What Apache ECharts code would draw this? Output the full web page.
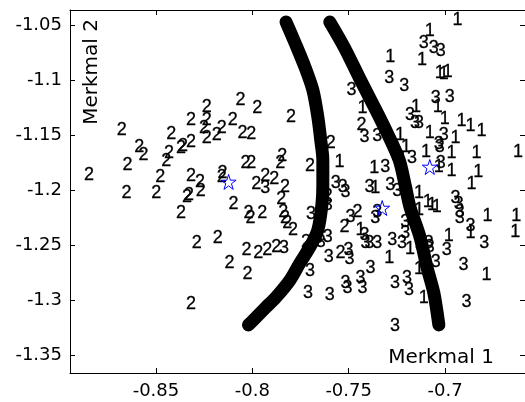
<!DOCTYPE html>
<html>
<head>
<meta charset="utf-8">
<script src="https://cdn.jsdelivr.net/npm/echarts@6/dist/echarts.min.js"></script>
<style>
html, body { margin:0; padding:0; background:#fff; }
#chart { width:525px; height:402px; }
</style>
</head>
<body>
<div id="chart"></div>
<script>
// tick labels
const xTicks = [-0.85, -0.8, -0.75, -0.7];
const yTicks = [-1.35, -1.3, -1.25, -1.2, -1.15, -1.1, -1.05];

// class 1 samples
const cls1X = [-0.6935,-0.7079,-0.7284,-0.7120,-0.7027,-0.7007,-0.6986,-0.7038,-0.7151,-0.7428,
    -0.7002,-0.6914,-0.6868,-0.6811,-0.7233,-0.7079,-0.6945,-0.6621,-0.7202,-0.7099,
    -0.6966,-0.6837,-0.7547,-0.7367,-0.7032,-0.6966,-0.6827,-0.6863,-0.7362,-0.7135,
    -0.7089,-0.7068,-0.7043,-0.7135,-0.6780,-0.6631,-0.6636,-0.6868,-0.6981,-0.7439,
    -0.7182,-0.7290,-0.7135,-0.6785,-0.7110];
const cls1Y = [-1.0455,-1.0555,-1.0791,-1.0818,-1.0936,-1.0945,-1.0927,-1.1245,-1.1245,-1.1255,
    -1.1355,-1.1373,-1.1418,-1.1464,-1.1500,-1.1482,-1.1527,-1.1655,-1.1609,-1.1655,
    -1.1664,-1.1664,-1.1745,-1.1800,-1.1791,-1.1827,-1.1836,-1.1945,-1.1982,-1.2027,
    -1.2109,-1.2136,-1.2155,-1.2182,-1.2236,-1.2236,-1.2382,-1.2391,-1.2418,-1.2364,
    -1.2536,-1.2618,-1.2718,-1.2773,-1.2982];

// class 2 samples
const cls2X = [-0.8061,-0.7974,-0.7799,-0.8236,-0.8236,-0.8318,-0.8102,-0.8678,-0.8421,-0.8251,
    -0.8159,-0.8051,-0.8005,-0.8236,-0.8185,-0.8318,-0.8359,-0.8370,-0.8586,-0.8565,
    -0.8648,-0.8432,-0.8447,-0.8848,-0.8478,-0.8318,-0.8272,-0.8154,-0.8159,-0.8035,
    -0.8005,-0.7845,-0.7855,-0.7701,-0.7593,-0.7434,-0.7979,-0.7933,-0.7886,-0.7830,
    -0.7850,-0.8653,-0.8498,-0.8339,-0.8329,-0.8267,-0.8370,-0.8097,-0.8020,-0.8010,
    -0.7948,-0.7840,-0.7830,-0.7819,-0.7789,-0.8288,-0.8179,-0.8118,-0.8030,-0.7969,
    -0.7922,-0.7876,-0.8025,-0.8318,-0.7722,-0.7542,-0.7521,-0.7454,-0.7609];
const cls2Y = [-1.1182,-1.1255,-1.1336,-1.1245,-1.1364,-1.1364,-1.1364,-1.1455,-1.1491,-1.1436,
    -1.1436,-1.1482,-1.1491,-1.1527,-1.1500,-1.1564,-1.1600,-1.1618,-1.1609,-1.1682,
    -1.1773,-1.1664,-1.1736,-1.1864,-1.1882,-1.1873,-1.1927,-1.1845,-1.1882,-1.1755,
    -1.1755,-1.1691,-1.1755,-1.1782,-1.1573,-1.1409,-1.1945,-1.1873,-1.1900,-1.1973,
    -1.2082,-1.2027,-1.2027,-1.2064,-1.2045,-1.2009,-1.2209,-1.2127,-1.2209,-1.2255,
    -1.2209,-1.2200,-1.2255,-1.2300,-1.2364,-1.2482,-1.2436,-1.2664,-1.2545,-1.2573,
    -1.2545,-1.2518,-1.2764,-1.3036,-1.2473,-1.2573,-1.2336,-1.2200,-1.2055];

// class 3 samples
const cls3X = [-0.7110,-0.7058,-0.7022,-0.7290,-0.7212,-0.7485,-0.7048,-0.6976,-0.7182,-0.7156,
    -0.7135,-0.7418,-0.7351,-0.7007,-0.7032,-0.7027,-0.7233,-0.7171,-0.7310,-0.7022,
    -0.7567,-0.7531,-0.7516,-0.7392,-0.7284,-0.7248,-0.7933,-0.7835,-0.7696,-0.7660,
    -0.7609,-0.7701,-0.7711,-0.7598,-0.7516,-0.7506,-0.7439,-0.7428,-0.7603,-0.7501,
    -0.7495,-0.7490,-0.6945,-0.6929,-0.6924,-0.6924,-0.6868,-0.6796,-0.6991,-0.6904,
    -0.6888,-0.7351,-0.7362,-0.7207,-0.7207,-0.7223,-0.7274,-0.7392,-0.7351,-0.7130,
    -0.7084,-0.7079,-0.7048,-0.7387,-0.7259,-0.7197,-0.7187,-0.7259,-0.7418,-0.7413,
    -0.7609,-0.7645];
const cls3Y = [-1.0664,-1.0709,-1.0736,-1.0982,-1.1055,-1.1091,-1.1164,-1.1155,-1.1318,-1.1391,
    -1.1391,-1.1518,-1.1509,-1.1500,-1.1582,-1.1609,-1.1709,-1.1709,-1.1791,-1.1755,
    -1.1936,-1.1973,-1.2018,-1.1973,-1.1955,-1.2009,-1.1982,-1.2527,-1.2218,-1.2436,
    -1.2427,-1.2736,-1.2936,-1.2955,-1.2845,-1.2891,-1.2800,-1.2891,-1.2609,-1.2545,
    -1.2627,-1.2245,-1.2073,-1.2127,-1.2200,-1.2255,-1.2327,-1.2482,-1.2545,-1.2682,
    -1.3018,-1.2200,-1.2255,-1.2291,-1.2391,-1.2482,-1.2455,-1.2482,-1.2482,-1.2500,
    -1.2482,-1.2518,-1.2655,-1.2709,-1.2845,-1.2800,-1.2909,-1.3236,-1.2409,-1.2482,
    -1.2136,-1.2473];

// class centres (stars): 2, 3, 1
const centerX = [-0.8123, -0.7326, -0.7079];
const centerY = [-1.1927, -1.2164, -1.1791];

// decision boundaries
const bound1X = [-0.7825,-0.7778,-0.7727,-0.7686,-0.7660,-0.7645,-0.7634,-0.7634,-0.7639,-0.7660,-0.7701,-0.7753,-0.7804,-0.7876,-0.7933,-0.7994,-0.8020];
const bound1Y = [-1.0473,-1.0664,-1.0882,-1.1091,-1.1336,-1.1545,-1.1727,-1.1955,-1.2136,-1.2364,-1.2518,-1.2664,-1.2818,-1.2973,-1.3073,-1.3182,-1.3227];
const bound2X = [-0.7598,-0.7521,-0.7444,-0.7367,-0.7300,-0.7238,-0.7207,-0.7182,-0.7130,-0.7094,-0.7058,-0.7032];
const bound2Y = [-1.0473,-1.0709,-1.0982,-1.1245,-1.1482,-1.1727,-1.1955,-1.2155,-1.2427,-1.2700,-1.2936,-1.3227];

const font = '"Liberation Sans", Arial, sans-serif';
const wideFont = '"DejaVu Sans", "Liberation Sans", sans-serif';
const starPath = 'path://M50 0 L61.17 34.63 L97.55 34.55 L68.07 55.87 L79.39 90.45 L50 69 L20.61 90.45 L31.93 55.87 L2.45 34.55 L38.83 34.63 Z';

const zip = (xs, ys) => xs.map((x, i) => [x, ys[i]]);

function textSeries(name, xs, ys){
    return {
        type:'scatter',
        name:name,
        symbol:'circle',
        symbolSize:1,
        itemStyle:{ color:'rgba(0,0,0,0)', opacity:1 },
        label:{
            show:true,
            position:'inside',
            formatter:name,
            color:'#000',
            textBorderColor:'#000',
            textBorderWidth:0.3,
            fontFamily:font,
            fontSize:18
        },
        silent:true,
        z:2,
        data:zip(xs, ys)
    };
}

function boundSeries(xs, ys){
    return {
        type:'line',
        data:zip(xs, ys),
        smooth:0.3,
        symbol:'none',
        lineStyle:{ color:'#000', width:13, cap:'round', join:'round', opacity:1 },
        silent:true,
        z:3
    };
}

const xMin = -0.8946, xMax = -0.6585;
const yMin = -1.3664, yMax = -1.0364;

const axisCommon = {
    type:'value',
    scale:true,
    splitLine:{ show:false },
    axisLine:{ show:true, onZero:false, lineStyle:{ color:'#000', width:1 } },
    axisTick:{ show:true, inside:true, length:5, lineStyle:{ color:'#000' } }
};

let myChart = echarts.init(document.getElementById('chart'), null, { renderer:'canvas' });
let option = {
    animation:false,
    grid:{ left:70, right:-4, top:10, bottom:29 },
    xAxis:[
        Object.assign({}, axisCommon, {
            min:xMin, max:xMax, position:'bottom',
            axisTick:Object.assign({}, axisCommon.axisTick, { customValues:xTicks }),
            axisLabel:{ customValues:xTicks, color:'#000', fontFamily:wideFont, fontSize:18, margin:9 }
        }),
        Object.assign({}, axisCommon, {
            min:xMin, max:xMax, position:'top',
            axisTick:Object.assign({}, axisCommon.axisTick, { customValues:xTicks }),
            axisLabel:{ show:false }
        })
    ],
    yAxis:[
        Object.assign({}, axisCommon, {
            min:yMin, max:yMax, position:'left',
            axisTick:Object.assign({}, axisCommon.axisTick, { customValues:yTicks }),
            axisLabel:{ customValues:yTicks, color:'#000', fontFamily:wideFont, fontSize:18, margin:8 }
        }),
        Object.assign({}, axisCommon, {
            min:yMin, max:yMax, position:'right',
            axisTick:Object.assign({}, axisCommon.axisTick, { customValues:yTicks }),
            axisLabel:{ show:false }
        })
    ],
    graphic:[
        {
            type:'text', x:92, y:72, rotation:Math.PI/2,
            style:{ text:'Merkmal 2', font:'20px ' + wideFont, fill:'#000', align:'center', verticalAlign:'middle' }
        },
        {
            type:'text', x:441, y:358,
            style:{ text:'Merkmal 1', font:'20px ' + wideFont, fill:'#000', align:'center', verticalAlign:'middle' }
        }
    ],
    series:[
        textSeries('2', cls2X, cls2Y),
        textSeries('3', cls3X, cls3Y),
        textSeries('1', cls1X, cls1Y),
        boundSeries(bound1X, bound1Y),
        boundSeries(bound2X, bound2Y),
        {
            type:'scatter',
            symbol:starPath,
            symbolSize:15,
            itemStyle:{ color:'rgba(0,0,0,0)', borderColor:'#0000ff', borderWidth:1, opacity:1 },
            silent:true,
            z:4,
            data:zip(centerX, centerY)
        }
    ]
};
myChart.setOption(option);
</script>
</body>
</html>
